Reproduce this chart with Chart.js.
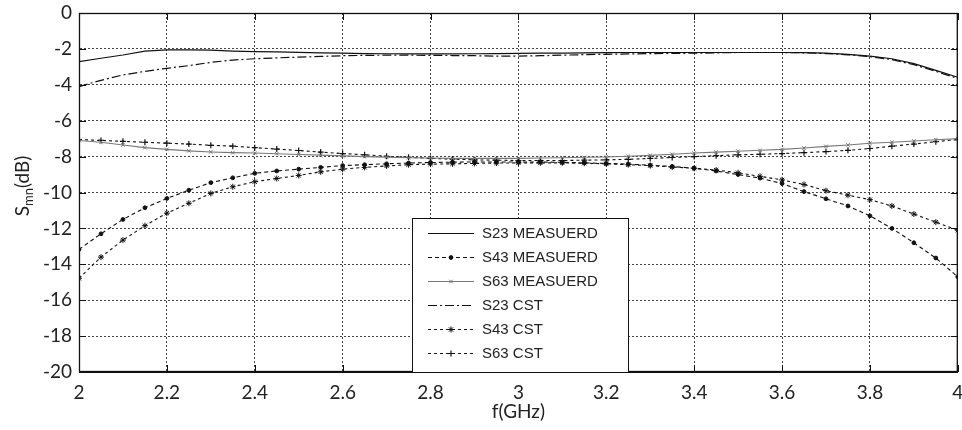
<!DOCTYPE html>
<html>
<head>
<meta charset="utf-8">
<script src="https://cdn.jsdelivr.net/npm/chart.js@4"></script>
<style>
  html, body { margin: 0; padding: 0; background: #fff; }
  #wrap { width: 962px; height: 430px; }
</style>
</head>
<body>
<div id="wrap"><canvas id="c" width="962" height="430"></canvas></div>
<script>
// ---------- DATA ----------
const freqGHz = [2.00,2.05,2.10,2.15,2.20,2.25,2.30,2.35,2.40,2.45,2.50,2.55,2.60,2.65,2.70,2.75,2.80,2.85,2.90,2.95,3.00,
                 3.05,3.10,3.15,3.20,3.25,3.30,3.35,3.40,3.45,3.50,3.55,3.60,3.65,3.70,3.75,3.80,3.85,3.90,3.95,4.00];

const s23Measured = [-2.71,-2.52,-2.34,-2.12,-2.05,-2.05,-2.07,-2.12,-2.15,-2.17,-2.19,-2.22,-2.24,-2.26,-2.27,-2.28,-2.28,-2.28,-2.27,-2.26,-2.25,
                     -2.24,-2.23,-2.22,-2.21,-2.20,-2.20,-2.20,-2.20,-2.20,-2.20,-2.20,-2.20,-2.21,-2.24,-2.30,-2.40,-2.55,-2.82,-3.20,-3.58];
const s43Measured = [-13.17,-12.30,-11.50,-10.85,-10.33,-9.87,-9.45,-9.18,-8.93,-8.80,-8.70,-8.60,-8.50,-8.45,-8.40,-8.36,-8.33,-8.31,-8.30,-8.30,-8.30,
                     -8.30,-8.32,-8.35,-8.38,-8.42,-8.48,-8.55,-8.65,-8.80,-9.00,-9.20,-9.50,-9.95,-10.35,-10.75,-11.30,-12.00,-12.80,-13.65,-14.70];
const s63Measured = [-7.10,-7.20,-7.35,-7.50,-7.60,-7.68,-7.74,-7.78,-7.80,-7.84,-7.88,-7.92,-7.96,-8.00,-8.03,-8.06,-8.08,-8.10,-8.10,-8.10,-8.10,
                     -8.08,-8.06,-8.04,-8.02,-7.98,-7.93,-7.87,-7.80,-7.75,-7.70,-7.65,-7.60,-7.52,-7.43,-7.35,-7.26,-7.20,-7.13,-7.06,-7.00];
const s23Cst      = [-4.10,-3.75,-3.45,-3.25,-3.08,-2.93,-2.75,-2.62,-2.55,-2.50,-2.46,-2.42,-2.38,-2.36,-2.35,-2.35,-2.36,-2.37,-2.38,-2.40,-2.40,
                     -2.38,-2.35,-2.32,-2.30,-2.28,-2.26,-2.25,-2.24,-2.22,-2.20,-2.20,-2.20,-2.22,-2.26,-2.33,-2.43,-2.60,-2.88,-3.25,-3.65];
const s43Cst      = [-14.78,-13.60,-12.65,-11.85,-11.15,-10.60,-10.05,-9.68,-9.40,-9.22,-9.05,-8.85,-8.70,-8.60,-8.52,-8.45,-8.42,-8.40,-8.38,-8.36,-8.35,
                     -8.35,-8.35,-8.37,-8.40,-8.45,-8.50,-8.58,-8.65,-8.75,-8.90,-9.10,-9.30,-9.55,-9.90,-10.15,-10.40,-10.75,-11.20,-11.65,-12.10];
const s63Cst      = [-7.05,-7.10,-7.15,-7.20,-7.25,-7.30,-7.37,-7.42,-7.50,-7.58,-7.66,-7.75,-7.83,-7.90,-7.98,-8.04,-8.10,-8.14,-8.18,-8.20,-8.22,
                     -8.22,-8.22,-8.20,-8.18,-8.15,-8.10,-8.05,-8.00,-7.95,-7.90,-7.87,-7.83,-7.78,-7.72,-7.65,-7.55,-7.42,-7.30,-7.17,-7.05];

const seriesNames = ["S23 MEASUERD","S43 MEASUERD","S63 MEASUERD","S23 CST","S43 CST","S63 CST"];

const xTickValues = [2,2.2,2.4,2.6,2.8,3,3.2,3.4,3.6,3.8,4];
const xTickLabels = ["2","2.2","2.4","2.6","2.8","3","3.2","3.4","3.6","3.8","4"];
const yTickValues = [0,-2,-4,-6,-8,-10,-12,-14,-16,-18,-20];
const yTickLabels = ["0","-2","-4","-6","-8","-10","-12","-14","-16","-18","-20"];

const xTitle = "f(GHz)";
const yTitleMain = "S", yTitleSub = "mn", yTitleTail = "(dB)";

// ---------- CHART ----------
const pts = arr => arr.map((v, i) => ({ x: freqGHz[i], y: v }));
const INK = '#111';

const datasets = [
  { label: seriesNames[0], data: pts(s23Measured), borderColor: INK, borderWidth: 1.2, borderDash: [],
    pointRadius: 0, pointStyle: false },
  { label: seriesNames[1], data: pts(s43Measured), borderColor: INK, backgroundColor: INK, borderWidth: 1.1, borderDash: [4,3],
    pointRadius: 1.9, pointStyle: 'circle', pointBorderWidth: 1 },
  { label: seriesNames[2], data: pts(s63Measured), borderColor: '#777', backgroundColor: '#777', borderWidth: 1.1, borderDash: [],
    pointRadius: 2.5, pointStyle: 'crossRot', pointBorderWidth: 1 },
  { label: seriesNames[3], data: pts(s23Cst), borderColor: INK, borderWidth: 1.2, borderDash: [9,3,2,3],
    pointRadius: 0, pointStyle: false },
  { label: seriesNames[4], data: pts(s43Cst), borderColor: INK, backgroundColor: INK, borderWidth: 1.1, borderDash: [3,3],
    pointRadius: 3, pointStyle: 'star', pointBorderWidth: 1 },
  { label: seriesNames[5], data: pts(s63Cst), borderColor: INK, backgroundColor: INK, borderWidth: 1.1, borderDash: [3,3],
    pointRadius: 3, pointStyle: 'cross', pointBorderWidth: 1.2 }
];
datasets.forEach(d => { d.tension = 0; d.fill = false; d.pointHoverRadius = 0; });

const TICK_FONT = { family: 'Lato, "Open Sans", sans-serif', size: 19 };

const decorPlugin = {
  id: 'decor',
  afterDraw(chart) {
    const ctx = chart.ctx, a = chart.chartArea;
    const xs = chart.scales.x, ys = chart.scales.y;
    ctx.save();
    // frame
    ctx.strokeStyle = '#111'; ctx.lineWidth = 1.3; ctx.setLineDash([]);
    ctx.strokeRect(a.left + 0.5, a.top + 0.5, a.right - a.left - 1, a.bottom - a.top - 1);
    // inward tick marks
    ctx.lineWidth = 1;
    ctx.beginPath();
    xTickValues.forEach(v => {
      const px = Math.round(xs.getPixelForValue(v)) + 0.5;
      ctx.moveTo(px, a.bottom); ctx.lineTo(px, a.bottom - 7);
      ctx.moveTo(px, a.top); ctx.lineTo(px, a.top + 7);
    });
    yTickValues.forEach(v => {
      const py = Math.round(ys.getPixelForValue(v)) + 0.5;
      ctx.moveTo(a.left, py); ctx.lineTo(a.left + 7, py);
      ctx.moveTo(a.right, py); ctx.lineTo(a.right - 7, py);
    });
    ctx.stroke();

    // legend box
    const lx = 412, ly = 218, lw = 216, lh = a.bottom - 218;
    ctx.fillStyle = '#fff';
    ctx.fillRect(lx, ly, lw, lh);
    ctx.strokeStyle = '#111'; ctx.lineWidth = 1;
    ctx.strokeRect(lx + 0.5, ly + 0.5, lw, lh);
    const drawPoint = (Chart.helpers && Chart.helpers.drawPoint) ? Chart.helpers.drawPoint : null;
    chart.data.datasets.forEach((d, i) => {
      const ry = 233 + i * 24;
      ctx.save();
      ctx.strokeStyle = d.borderColor; ctx.lineWidth = d.borderWidth;
      ctx.setLineDash(d.borderDash || []);
      ctx.beginPath(); ctx.moveTo(428, ry + 0.5); ctx.lineTo(474, ry + 0.5); ctx.stroke();
      ctx.setLineDash([]);
      if (d.pointStyle && drawPoint) {
        ctx.fillStyle = d.backgroundColor || d.borderColor;
        ctx.strokeStyle = d.borderColor;
        ctx.lineWidth = d.pointBorderWidth || 1;
        drawPoint(ctx, { pointStyle: d.pointStyle, radius: d.pointRadius, borderWidth: d.pointBorderWidth || 1, rotation: 0 }, 451, ry + 0.5);
      }
      ctx.restore();
      ctx.fillStyle = '#222';
      ctx.font = '15px "Liberation Sans", Arial, sans-serif';
      ctx.textBaseline = 'middle'; ctx.textAlign = 'left';
      ctx.fillText(d.label, 482, ry + 1);
    });

    // axis titles
    ctx.fillStyle = '#222';
    ctx.font = '19px Lato, "Open Sans", sans-serif';
    ctx.textAlign = 'center'; ctx.textBaseline = 'alphabetic';
    ctx.fillText(xTitle, (a.left + a.right) / 2, 418);

    ctx.save();
    ctx.translate(29, 186);
    ctx.rotate(-Math.PI / 2);
    const fMain = '19px Lato, "Open Sans", sans-serif', fSub = '13px Lato, "Open Sans", sans-serif';
    ctx.font = fMain; const w1 = ctx.measureText(yTitleMain).width, w3 = ctx.measureText(yTitleTail).width;
    ctx.font = fSub; const w2 = ctx.measureText(yTitleSub).width;
    let x0 = -(w1 + w2 + w3) / 2;
    ctx.textAlign = 'left';
    ctx.font = fMain; ctx.fillText(yTitleMain, x0, 0);
    ctx.font = fSub; ctx.fillText(yTitleSub, x0 + w1, 4);
    ctx.font = fMain; ctx.fillText(yTitleTail, x0 + w1 + w2, 0);
    ctx.restore();

    ctx.restore();
  }
};

const noPad = s => { s.paddingLeft = 0; s.paddingRight = 0; s.paddingTop = 0; s.paddingBottom = 0; };

new Chart(document.getElementById('c'), {
  type: 'line',
  data: { datasets },
  options: {
    responsive: false,
    animation: false,
    devicePixelRatio: 1,
    layout: { padding: { top: 13, right: 3, left: 0, bottom: 0 } },
    plugins: { legend: { display: false }, tooltip: { enabled: false } },
    elements: { line: { borderCapStyle: 'butt' } },
    scales: {
      x: {
        type: 'linear', min: 2, max: 4,
        afterFit(s) { s.height = 58; noPad(s); },
        afterBuildTicks(s) { s.ticks = xTickValues.map(v => ({ value: v })); },
        grid: { color: '#444', lineWidth: 1, drawTicks: false },
        border: { display: true, color: '#111', dash: [2, 2] },
        ticks: {
          padding: 9, color: '#222', font: TICK_FONT, maxRotation: 0, autoSkip: false,
          callback: v => xTickLabels[xTickValues.findIndex(t => Math.abs(t - v) < 1e-6)]
        }
      },
      y: {
        type: 'linear', min: -20, max: 0,
        afterFit(s) { s.width = 79; noPad(s); },
        afterBuildTicks(s) { s.ticks = yTickValues.slice().reverse().map(v => ({ value: v })); },
        grid: { color: '#444', lineWidth: 1, drawTicks: false },
        border: { display: true, color: '#111', dash: [2, 2] },
        ticks: {
          padding: 7, color: '#222', font: TICK_FONT, autoSkip: false,
          callback: v => yTickLabels[yTickValues.findIndex(t => Math.abs(t - v) < 1e-6)]
        }
      }
    }
  },
  plugins: [decorPlugin]
});
</script>
</body>
</html>
